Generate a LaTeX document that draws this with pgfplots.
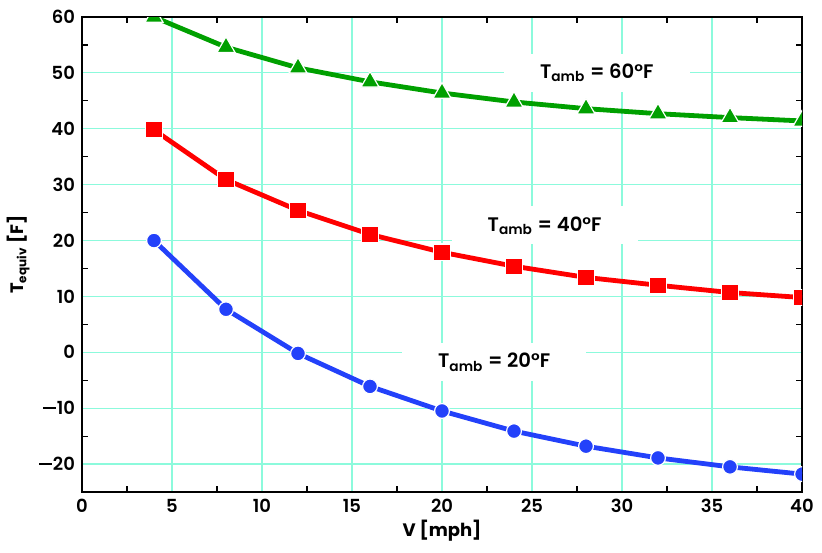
\documentclass[border=0pt]{standalone}
\usepackage{fontspec}
\setmainfont{Poppins SemiBold}[BoldFont={Poppins Bold}]
\usepackage{pgfplots}
\pgfplotsset{compat=1.18}
\definecolor{gridc}{RGB}{140,250,220}
\definecolor{cgreen}{RGB}{0,160,0}
\definecolor{cred}{RGB}{255,0,0}
\definecolor{cblue}{RGB}{35,65,250}
\newcommand\mn{\rule[2.75pt]{6.2pt}{1pt}\kern0.6pt}
\begin{document}
\begin{tikzpicture}
\useasboundingbox (-41pt,-30pt) rectangle (370pt,246pt);
\begin{axis}[
  at={(0,0)}, anchor=south west,
  scale only axis, width=360pt, height=237.5pt,
  xmin=0, xmax=40, ymin=-25, ymax=60,
  xtick={0,5,...,40},
  ytick={-20,-10,...,60},
  yticklabels={\mn20,\mn10,0,10,20,30,40,50,60},
  minor x tick num=1, minor y tick num=1,
  major tick length=0pt, minor tick length=3pt,
  tick pos=both, tick align=inside,
  xmajorgrids, ymajorgrids,
  grid style={gridc, line width=0.6pt},
  axis line style={line width=1pt},
  minor tick style={line width=0.6pt, black},
  tick label style={font=\fontsize{9pt}{11pt}\selectfont},
  /pgf/number format/assume math mode=true,
  xlabel={\bfseries V [mph]},
  ylabel={\bfseries T\textsubscript{equiv} [F]},
  label style={font=\fontsize{9pt}{11pt}\selectfont},
  xlabel style={yshift=3pt},
  ylabel style={yshift=-2pt},
  clip marker paths=true,
]
\addplot[cgreen, line width=2.4pt, mark=triangle*, mark size=5.2pt,
  mark options={fill=cgreen, draw=white, line width=0.6pt}] coordinates {
(4,60.0) (8,54.6) (12,50.9) (16,48.4) (20,46.4) (24,44.8) (28,43.6) (32,42.7) (36,42.0) (40,41.4)};
\addplot[cred, line width=2.4pt, mark=square*, mark size=4.1pt,
  mark options={fill=cred, draw=white, line width=0.6pt}] coordinates {
(4,39.8) (8,30.9) (12,25.4) (16,21.1) (20,17.9) (24,15.4) (28,13.4) (32,12.0) (36,10.7) (40,9.8)};
\addplot[cblue, line width=2.4pt, mark=*, mark size=3.7pt,
  mark options={fill=cblue, draw=white, line width=0.6pt}] coordinates {
(4,20.0) (8,7.7) (12,-0.2) (16,-6.1) (20,-10.5) (24,-14.1) (28,-16.8) (32,-18.9) (36,-20.5) (40,-21.8)};
\node[fill=white, inner xsep=18pt, inner ysep=5pt, font=\fontsize{9.8pt}{12pt}\selectfont] at (axis cs:28.6,50) {T\textsubscript{amb} = 60°F};
\node[fill=white, inner xsep=18pt, inner ysep=5pt, font=\fontsize{9.8pt}{12pt}\selectfont] at (axis cs:25.7,22.7) {T\textsubscript{amb} = 40°F};
\node[fill=white, inner xsep=18pt, inner ysep=5pt, font=\fontsize{9.8pt}{12pt}\selectfont] at (axis cs:22.9,-1.8) {T\textsubscript{amb} = 20°F};
\end{axis}
\end{tikzpicture}
\end{document}
